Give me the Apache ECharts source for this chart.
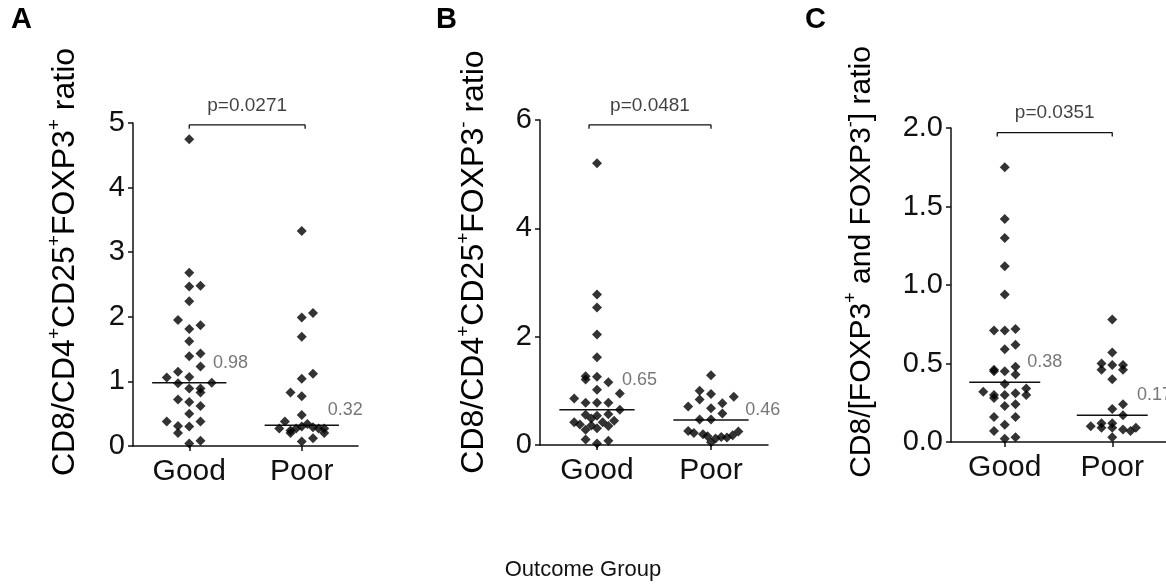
<!DOCTYPE html>
<html>
<head>
<meta charset="utf-8">
<script src="https://cdn.jsdelivr.net/npm/echarts@6/dist/echarts.min.js"></script>
<style>
html, body { margin: 0; padding: 0; background: #fff; }
#main { width: 1166px; height: 587px; }
</style>
</head>
<body>
<div id="main"></div>
<script>
// groups on the x axis
var groups = ['Good', 'Poor'];

// A: CD8/CD4+CD25+FOXP3+ ratio
var aGood   = [4.75, 2.68, 2.47, 2.48, 2.24, 1.95, 1.87, 1.81, 1.62, 1.39, 1.43, 1.23, 1.15, 1.06, 1.07, 0.97, 0.98, 0.89, 0.89, 0.83, 0.72, 0.68, 0.62, 0.50, 0.38, 0.38, 0.31, 0.30, 0.20, 0.04, 0.08];
var aGoodDx = [0, 0, 0, 1, 0, -1, 1, 0, 0, 0, 1, 1, -1, -2, 0, -1, 2, 0, 1, 1, -1, 0, 1, 0, -2, 1, -1, 0, -1, 0, 1];
var aPoor   = [3.33, 2.06, 1.99, 1.69, 1.12, 1.04, 0.83, 0.77, 0.48, 0.38, 0.34, 0.30, 0.29, 0.27, 0.27, 0.27, 0.27, 0.24, 0.20, 0.20, 0.12, 0.07];
var aPoorDx = [0, 1, 0, 0, 1, 0, -1, 0, 0, -1.5, 0.5, 0, 1, -2, -0.5, 1.5, 2, -1, -1, 2, 1, 0];

// B: CD8/CD4+CD25+FOXP3- ratio
var bGood   = [5.20, 2.78, 2.54, 2.04, 1.62, 1.27, 1.21, 1.26, 1.16, 1.02, 0.95, 0.86, 0.78, 0.78, 0.78, 0.65, 0.56, 0.57, 0.54, 0.49, 0.45, 0.42, 0.42, 0.38, 0.36, 0.35, 0.31, 0.28, 0.10, 0.03, 0.08];
var bGoodDx = [0, 0, 0, 0, 0, -1, -1, 0, 1, 0, 2, -2, -1, 0, 1, 2, -1, 1, 0, -0.5, 1.5, -2, 0.5, -1.5, -0.5, 1, 0, -1, -1, 0, 1];
var bPoor   = [1.29, 1.00, 0.94, 0.89, 0.84, 0.77, 0.71, 0.68, 0.58, 0.47, 0.47, 0.26, 0.22, 0.20, 0.16, 0.05, 0.12, 0.15, 0.14, 0.18, 0.25];
var bPoorDx = [0, -1, 0, 2, -1, 1, -2, 0, 1, -1, 0, -2, -1.5, -0.7, -0.3, 0, 0.4, 0.9, 1.4, 1.9, 2.4];

// C: CD8/[FOXP3+ and FOXP3-] ratio
var cGood   = [1.75, 1.42, 1.30, 1.12, 0.94, 0.71, 0.71, 0.72, 0.62, 0.59, 0.46, 0.45, 0.45, 0.48, 0.43, 0.37, 0.32, 0.30, 0.28, 0.30, 0.31, 0.34, 0.30, 0.23, 0.24, 0.16, 0.16, 0.11, 0.07, 0.02, 0.03];
var cGoodDx = [0, 0, 0, 0, 0, -1, 0, 1, 1, 0, -1, -1, 0, 1, 1, 0, -2, -1, -1, 0, 1, 2, 2, 0, 1, -1, 1, 0, -1, 0, 1];
var cPoor   = [0.78, 0.57, 0.50, 0.46, 0.49, 0.49, 0.46, 0.40, 0.24, 0.21, 0.17, 0.10, 0.12, 0.09, 0.12, 0.09, 0.08, 0.07, 0.09, 0.03];
var cPoorDx = [0, 0, -1, -1, 0, 1, 1, 0, 1, 0, 1, -2, -1, -1, 0, 0, 1, 1.7, 2.2, 0];

// medians and p values printed on the figure
var medians = [[0.98, 0.32], [0.65, 0.46], [0.38, 0.17]];
var pValues = ['p=0.0271', 'p=0.0481', 'p=0.0351'];

// y axis ticks
var yMax  = [5, 6, 2];
var yStep = [1, 2, 0.5];
var yDigits = [0, 0, 1];

var panels = [
    { good: aGood, goodDx: aGoodDx, poor: aPoor, poorDx: aPoorDx },
    { good: bGood, goodDx: bGoodDx, poor: bPoor, poorDx: bPoorDx },
    { good: cGood, goodDx: cGoodDx, poor: cPoor, poorDx: cPoorDx }
];

// layout only
var font = 'Liberation Sans, Arial, sans-serif';
var ink = '#111';
var grids = [
    { left: 133, top: 123, width: 225, height: 323 },
    { left: 540, top: 120, width: 228, height: 325 },
    { left: 951, top: 128, width: 218, height: 314 }
];
var bracketY = [4.97, 5.91, 1.97];
var bracketX = [[1.0, 2.03], [0.93, 2.0], [0.93, 2.0]];
var medLabelDx = [[0.21, 0.23], [0.22, 0.30], [0.21, 0.23]];
var medLabelDy = [[-20, -15], [-30, -10], [-20, -20]];

var myChart = echarts.init(document.getElementById('main'), null, { renderer: 'canvas' });

var xAxes = [], yAxes = [], series = [];
panels.forEach(function (p, i) {
    xAxes.push({
        gridIndex: i, type: 'value', min: 0.5, max: 2.5,
        axisLine: { show: true, onZero: false, lineStyle: { color: ink, width: 1.5 } },
        axisTick: { show: true, customValues: [1, 2], length: 5, lineStyle: { color: ink, width: 1.5 } },
        axisLabel: {
            customValues: [1, 2], margin: 11, fontSize: 30, fontFamily: font, color: ink,
            formatter: function (v) { return groups[Math.round(v) - 1]; }
        },
        splitLine: { show: false }
    });
    yAxes.push({
        gridIndex: i, type: 'value', min: 0, max: yMax[i], interval: yStep[i],
        axisLine: { show: true, lineStyle: { color: ink, width: 1.5 } },
        axisTick: { show: true, length: 5, lineStyle: { color: ink, width: 1.5 } },
        axisLabel: {
            margin: 8, fontSize: 29, fontFamily: font, color: ink,
            formatter: function (v) { return v.toFixed(yDigits[i]); }
        },
        splitLine: { show: false }
    });

    // dots
    [[p.good, p.goodDx], [p.poor, p.poorDx]].forEach(function (g, gi) {
        series.push({
            type: 'scatter', xAxisIndex: i, yAxisIndex: i,
            symbol: 'diamond', symbolSize: 10,
            itemStyle: { color: '#000' },
            data: g[0].map(function (v, k) { return [gi + 1 + g[1][k] * 0.1, v]; }),
            z: 3
        });
        // median line
        var m = medians[i][gi];
        series.push({
            type: 'line', xAxisIndex: i, yAxisIndex: i, symbol: 'none',
            lineStyle: { color: ink, width: 1.5 },
            data: [[gi + 1 - 0.33, m], [gi + 1 + 0.33, m]], z: 2
        });
        // median label
        series.push({
            type: 'scatter', xAxisIndex: i, yAxisIndex: i, symbolSize: 0,
            data: [[gi + 1 + medLabelDx[i][gi], m]],
            label: {
                show: true, position: 'right', distance: 0, offset: [0, medLabelDy[i][gi]],
                fontSize: 18, fontFamily: font, color: '#555',
                formatter: function () { return m.toFixed(2); }
            }
        });
    });

    // p value bracket
    var by = bracketY[i], d = yMax[i] * 0.012, bx = bracketX[i];
    series.push({
        type: 'line', xAxisIndex: i, yAxisIndex: i, symbol: 'none',
        lineStyle: { color: ink, width: 1.3 },
        data: [[bx[0], by - d], [bx[0], by], [bx[1], by], [bx[1], by - d]]
    });
    series.push({
        type: 'scatter', xAxisIndex: i, yAxisIndex: i, symbolSize: 0,
        data: [[(bx[0] + bx[1]) / 2, by]],
        label: {
            show: true, position: 'top', distance: 10,
            fontSize: 19, fontFamily: font, color: ink,
            formatter: function () { return pValues[i]; }
        }
    });
});

function titleRich(size) {
    return {
        m: { fontSize: size, fontFamily: font, color: ink, lineHeight: 40 },
        s: { fontSize: Math.round(size * 0.6), fontFamily: font, color: ink, lineHeight: 40, verticalAlign: 'top' }
    };
}
var titles = [
    '{m|CD8/CD4}{s|+}{m|CD25}{s|+}{m|FOXP3}{s|+}{m| ratio}',
    '{m|CD8/CD4}{s|+}{m|CD25}{s|+}{m|FOXP3}{s|-}{m| ratio}',
    '{m|CD8/[FOXP3}{s|+}{m| and FOXP3}{s|-}{m|] ratio}'
];
var titleSize = [32, 32, 30];
var titleX = [65, 474, 862];
var letters = ['A', 'B', 'C'];
var letterX = [11, 436, 805];

var graphic = [];
titles.forEach(function (t, i) {
    graphic.push({
        type: 'text', x: titleX[i], y: 262, rotation: Math.PI / 2,
        style: { text: t, rich: titleRich(titleSize[i]), align: 'center', verticalAlign: 'middle' }
    });
    graphic.push({
        type: 'text', x: letterX[i], y: 5,
        style: { text: letters[i], font: 'bold 29px ' + font, fill: '#000' }
    });
});
graphic.push({
    type: 'text', x: 583, y: 570,
    style: { text: 'Outcome Group', font: '22px ' + font, fill: ink, align: 'center', verticalAlign: 'middle' }
});

myChart.setOption({
    animation: false,
    backgroundColor: '#fff',
    grid: grids,
    xAxis: xAxes,
    yAxis: yAxes,
    series: series,
    graphic: graphic
});
</script>
</body>
</html>
